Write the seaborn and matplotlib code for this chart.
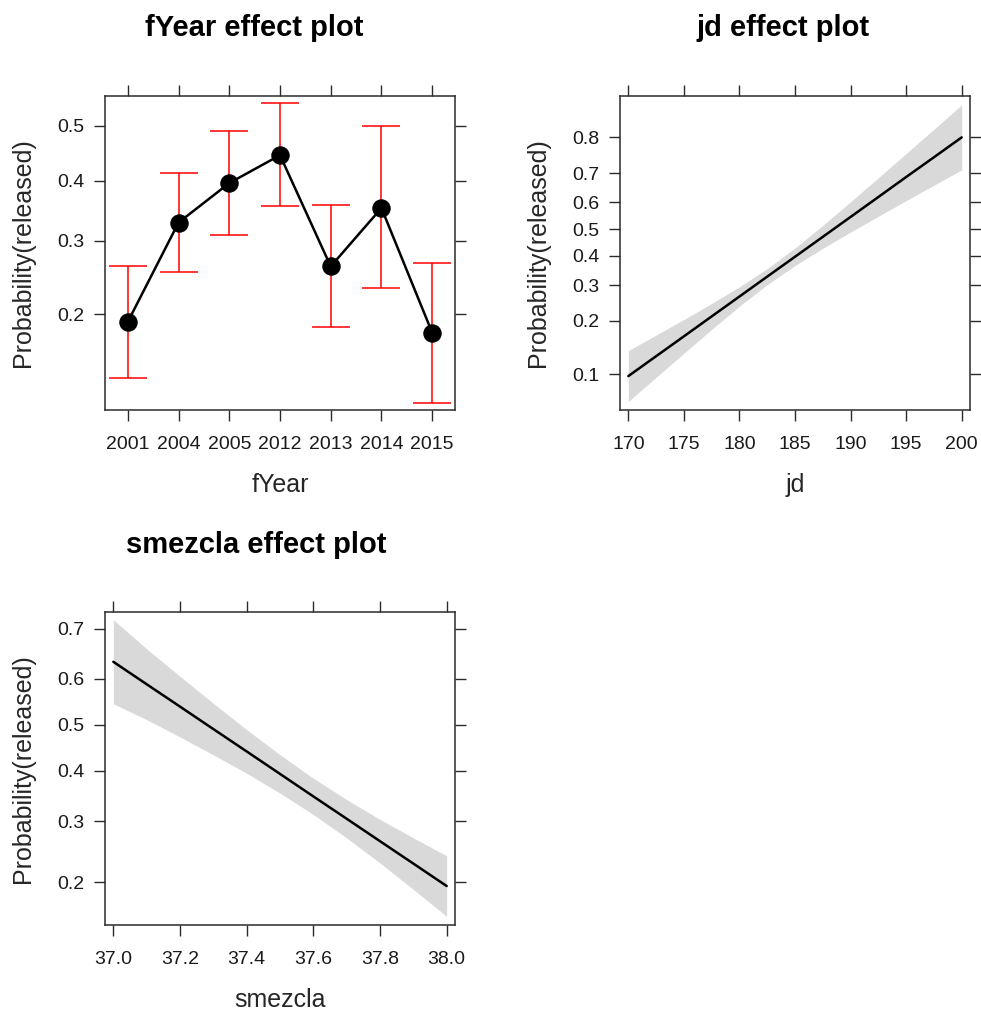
import matplotlib
matplotlib.use("Agg")
import matplotlib.pyplot as plt
import matplotlib.ticker as mticker
import pandas as pd
import seaborn as sns

# ----------------------------------------------------
# Data
# ----------------------------------------------------
years = ["2001", "2004", "2005", "2012", "2013", "2014", "2015"]
year_fit = [0.191, 0.329, 0.396, 0.446, 0.262, 0.353, 0.179]
year_lower = [0.135, 0.254, 0.309, 0.356, 0.185, 0.233, 0.115]
year_upper = [0.262, 0.414, 0.490, 0.541, 0.358, 0.500, 0.267]

jd = [170, 172.5, 175, 177.5, 180, 182.5, 185, 187.5, 190, 192.5, 195, 197.5, 200]
jd_fit = [0.0977, 0.1276, 0.1649, 0.2107, 0.2650, 0.3276, 0.3968,
          0.4705, 0.5456, 0.6187, 0.6870, 0.7474, 0.7999]
jd_lower = [0.0687, 0.0961, 0.1327, 0.1799, 0.2374, 0.3015, 0.3656,
            0.4277, 0.4885, 0.5481, 0.6059, 0.6597, 0.7099]
jd_upper = [0.1373, 0.1676, 0.2031, 0.2451, 0.2946, 0.3548, 0.4288,
            0.5137, 0.6016, 0.6846, 0.7580, 0.8188, 0.8673]

smezcla = [37.0, 37.1, 37.2, 37.3, 37.4, 37.5, 37.6, 37.7, 37.8, 37.9, 38.0]
sm_fit = [0.6355, 0.5886, 0.5402, 0.4908, 0.4418, 0.3937, 0.3475,
          0.3043, 0.2641, 0.2276, 0.1947]
sm_lower = [0.5464, 0.5115, 0.4735, 0.4344, 0.3951, 0.3541, 0.3122,
            0.2697, 0.2285, 0.1901, 0.1562]
sm_upper = [0.7163, 0.6615, 0.6054, 0.5474, 0.4895, 0.4346, 0.3846,
            0.3412, 0.3030, 0.2699, 0.2399]

YLABEL = "Probability(released)"
BAND = "#d9d9d9"
FRAME = "#2b2b2b"

W, H = 981, 1015


def px_rect(left, top, right, bottom):
    return [left / W, 1 - bottom / H, (right - left) / W, (bottom - top) / H]


def style_axis(ax, yticks, ylim, xlabel):
    ax.set_yscale("logit")
    ax.yaxis.set_major_locator(mticker.FixedLocator(yticks))
    ax.yaxis.set_major_formatter(mticker.FixedFormatter([f"{t:g}" for t in yticks]))
    ax.yaxis.set_minor_locator(mticker.NullLocator())
    ax.set_ylim(*ylim)
    ax.tick_params(axis="both", which="major", direction="out", length=8, width=1,
                   color=FRAME, bottom=True, left=True, top=True, right=True,
                   labeltop=False, labelright=False, labelbottom=True, labelleft=True,
                   labelsize=14, labelcolor="#1a1a1a")
    ax.tick_params(axis="x", pad=11)
    ax.tick_params(axis="y", pad=7)
    for s in ax.spines.values():
        s.set_color(FRAME)
        s.set_linewidth(1.1)
    ax.grid(False)
    ax.set_xlabel(xlabel, fontsize=18, va="center")
    ax.set_ylabel(YLABEL, fontsize=18, va="center")
    ax.xaxis.set_label_coords(0.5, -0.24)
    ax.yaxis.set_label_coords(-0.234, 0.5)


def main():
    sns.set_theme(style="white")
    plt.rcParams["font.family"] = ["Liberation Sans", "DejaVu Sans"]

    fig = plt.figure(figsize=(W / 100, H / 100), dpi=100)
    fig.patch.set_facecolor("white")

    # ---------------- fYear ----------------
    ax1 = fig.add_axes(px_rect(105, 96, 455, 410))
    df_year = pd.DataFrame({"pos": range(len(years)), "fit": year_fit,
                            "lower": year_lower, "upper": year_upper})
    ax1.errorbar(df_year["pos"], df_year["fit"],
                 yerr=[df_year["fit"] - df_year["lower"], df_year["upper"] - df_year["fit"]],
                 fmt="none", ecolor="red", elinewidth=1.1, capsize=13.5, capthick=1.1, zorder=2)
    sns.lineplot(data=df_year, x="pos", y="fit", ax=ax1, color="black", lw=1.8,
                 marker="o", markersize=12.5, markeredgecolor="black", zorder=3)
    ax1.set_xticks(range(len(years)))
    ax1.set_xticklabels(years)
    ax1.set_xlim(-0.45, 6.45)
    style_axis(ax1, [0.2, 0.3, 0.4, 0.5], (0.1098, 0.5545), "fYear")

    # ---------------- jd ----------------
    ax2 = fig.add_axes(px_rect(620, 96, 970, 410))
    df_jd = pd.DataFrame({"jd": jd, "fit": jd_fit, "lower": jd_lower, "upper": jd_upper})
    ax2.fill_between(df_jd["jd"], df_jd["lower"], df_jd["upper"], color=BAND, lw=0, zorder=1)
    sns.lineplot(data=df_jd, x="jd", y="fit", ax=ax2, color="black", lw=1.8, zorder=3)
    ax2.set_xticks([170, 175, 180, 185, 190, 195, 200])
    ax2.set_xlim(169.25, 200.75)
    style_axis(ax2, [0.1, 0.2, 0.3, 0.4, 0.5, 0.6, 0.7, 0.8], (0.0609, 0.882), "jd")

    # ---------------- smezcla ----------------
    ax3 = fig.add_axes(px_rect(105, 612, 455, 925))
    df_sm = pd.DataFrame({"smezcla": smezcla, "fit": sm_fit, "lower": sm_lower, "upper": sm_upper})
    ax3.fill_between(df_sm["smezcla"], df_sm["lower"], df_sm["upper"], color=BAND, lw=0, zorder=1)
    sns.lineplot(data=df_sm, x="smezcla", y="fit", ax=ax3, color="black", lw=1.8, zorder=3)
    ax3.set_xticks([37.0, 37.2, 37.4, 37.6, 37.8, 38.0])
    ax3.xaxis.set_major_formatter(mticker.FormatStrFormatter("%.1f"))
    ax3.set_xlim(36.975, 38.025)
    style_axis(ax3, [0.2, 0.3, 0.4, 0.5, 0.6, 0.7], (0.1464, 0.730), "smezcla")

    # panel titles
    for (x, y, txt) in [(254, 28, "fYear effect plot"), (783, 28, "jd effect plot"),
                        (256, 545, "smezcla effect plot")]:
        fig.text(x / W, 1 - y / H, txt, ha="center", va="center",
                 fontsize=21, fontweight="bold", color="black")

    fig.savefig("out.png", dpi=100, facecolor="white")
    plt.close(fig)


if __name__ == "__main__":
    main()
